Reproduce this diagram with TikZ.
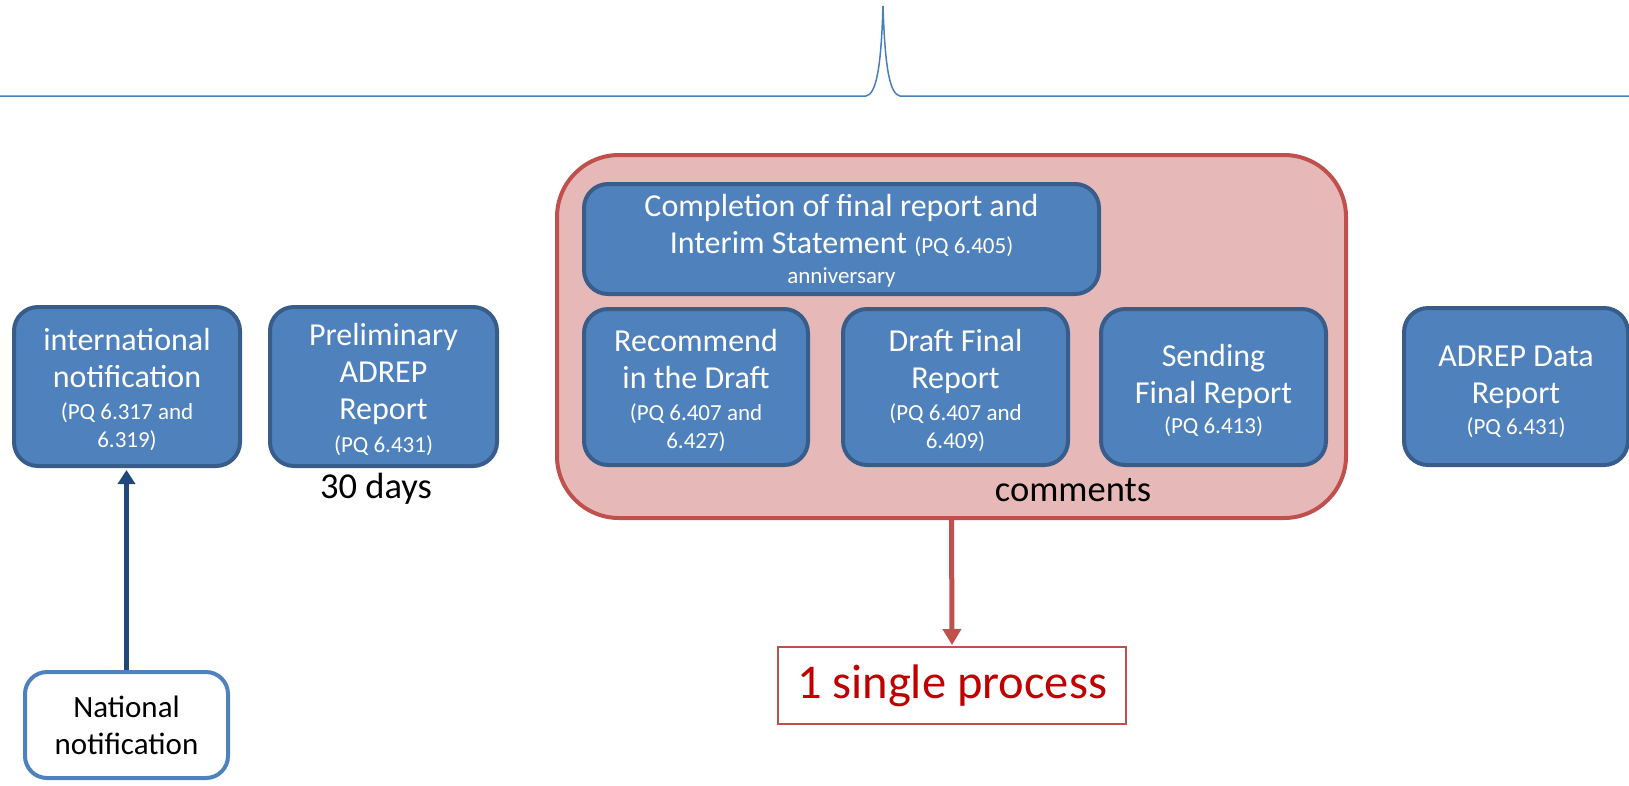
\documentclass[tikz,border=0pt]{standalone}
\usepackage{fontspec}
\setmainfont{Carlito}
\usetikzlibrary{arrows.meta}
\definecolor{boxfill}{RGB}{79,129,189}
\definecolor{boxedge}{RGB}{56,93,138}
\definecolor{redfill}{RGB}{230,185,184}
\definecolor{rededge}{RGB}{192,80,77}
\definecolor{darkred}{RGB}{192,0,0}
\definecolor{navy}{RGB}{31,73,125}
\definecolor{bracecol}{RGB}{74,126,187}
\newcommand\pqsize{\fontsize{23}{27}\selectfont}
\begin{document}
\begin{tikzpicture}[x=1pt,y=-1pt,
  bluebox/.style={draw=boxedge, fill=boxfill, line width=4pt, rounded corners=24pt,
    inner sep=0pt, minimum width=226pt, minimum height=159pt},
  boxtext/.style={text=white, align=center, inner sep=0pt,
    font=\fontsize{32}{37}\selectfont},
  container/.style={draw=rededge, fill=redfill, line width=4pt, rounded corners=62pt,
    inner sep=0pt, minimum width=789pt, minimum height=363pt},
  plain/.style={inner sep=0pt, font=\fontsize{36.5}{43}\selectfont},
  natbox/.style={draw=boxfill, fill=white, line width=4pt, rounded corners=22pt,
    inner sep=0pt, minimum width=203pt, minimum height=106pt, align=center,
    font=\fontsize{31}{37}\selectfont},
  singlebox/.style={draw=rededge, line width=2pt, inner sep=0pt, minimum width=348pt,
    minimum height=77pt, text=darkred, font=\fontsize{48.5}{58}\selectfont},
  bluearrow/.style={navy, line width=5pt, -{Triangle[length=14pt,width=17pt]}},
  redarrow/.style={rededge, line width=5pt, -{Triangle[length=16pt,width=18pt]}}
]
\useasboundingbox (0,0) rectangle (1629,785);

% brace
\draw[bracecol, line width=1.5pt] (0,96) -- (866,96)
  .. controls (876,94) and (881,70) .. (883,6)
  .. controls (885,70) and (890,94) .. (900,96) -- (1629,96);

% left boxes
\node[bluebox] (intl) at (127,386.5) {};
\node[boxtext] (intlt) at ([yshift=-3pt]intl.center)
  {international\\notification\\[-5pt]{\pqsize (PQ 6.317 and}\\[-9pt]{\pqsize 6.319)}};
\node[bluebox, minimum width=227pt] (prelim) at (383.5,386.5) {};
\node[boxtext] (prelimt) at ([yshift=-3pt]prelim.center)
  {Preliminary\\ADREP\\Report\\[-4pt]{\pqsize (PQ 6.431)}};
\node[plain] (days) at (376,489) {30 days};

% container
\node[container] (grp) at (951.5,336.5) {};
\node[bluebox, minimum width=515pt, minimum height=110pt] (compl) at (841.5,239) {};
\node[boxtext] (complt) at ([yshift=-2pt]compl.center)
  {Completion of final report and\\Interim Statement {\pqsize (PQ 6.405)}\\[-7pt]{\pqsize anniversary}};
\node[bluebox, minimum width=224pt, minimum height=156pt] (recom) at (696,387) {};
\node[boxtext] (recomt) at ([yshift=-3pt]recom.center)
  {Recommend\\in the Draft\\[-5pt]{\pqsize (PQ 6.407 and}\\[-9pt]{\pqsize 6.427)}};
\node[bluebox, minimum width=225pt, minimum height=156pt] (draft) at (955.5,387) {};
\node[boxtext] (draftt) at ([yshift=-3pt]draft.center)
  {Draft Final\\Report\\[-5pt]{\pqsize (PQ 6.407 and}\\[-9pt]{\pqsize 6.409)}};
\node[bluebox, minimum width=225pt, minimum height=156pt] (send) at (1213.5,387) {};
\node[boxtext] (sendt) at ([yshift=-3pt]send.center)
  {Sending\\Final Report\\[-7pt]{\pqsize (PQ 6.413)}};
\node[plain] (comm) at (1073,490) {comments};

% right box
\node[bluebox, minimum width=224pt, minimum height=157pt] (data) at (1516,386.5) {};
\node[boxtext] (datat) at ([yshift=-5pt]data.center)
  {ADREP Data\\Report\\[-6pt]{\pqsize (PQ 6.431)}};

% bottom
\node[natbox] (nat) at (126.5,725) {National\\notification};
\node[singlebox] (single) at (952,685.5) {1 single process};

\draw[bluearrow] (nat.north) -- ([yshift=-2pt]intl.south -| nat.north);
\draw[redarrow] (grp.south) -- ([yshift=1pt]single.north);
\end{tikzpicture}
\end{document}
